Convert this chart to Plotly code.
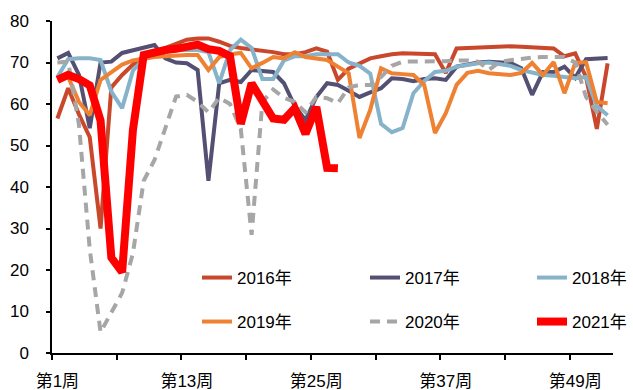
import plotly.graph_objects as go

weeks = list(range(1, 53))
y2016 = [56.5, 63.8, 57.5, 52, 30, 64, 67, 69.5, 71.5, 72.5, 73.5, 74.5, 75.5, 75.8, 75.8, 75, 74, 73.5, 73.2, 73, 72.5, 72, 72, 72.5, 73.4, 72.6, 65.8, 68.5, 69.8, 71, 71.5, 72, 72.2, 72.2, 72.2, 72, 67.5, 73.4, 73.5, 73.6, 73.8, 74, 73.9, 73.8, 73.6, 73.4, 73.4, 71.5, 72.2, 66.5, 54, 69.8]
y2017 = [71, 72.3, 67, 54.2, 70, 70.2, 72.3, 73, 73.7, 74.2, 71, 70, 69.8, 68.2, 41.5, 65, 65.8, 65.3, 68.2, 68, 67.7, 65, 59.5, 56.1, 61.7, 65, 64.6, 63.2, 61.7, 62.8, 63.8, 66.2, 66, 65.5, 66, 66.2, 65.8, 69, 69.5, 70, 70.2, 70, 69.9, 68.6, 62.2, 67.7, 67.7, 69, 66.3, 70.8, 71, 71.1]
y2018 = [66.5, 70.8, 71, 71, 70.6, 63, 59, 68, 71, 72, 72.5, 73, 73, 73, 72.5, 65, 73, 75.5, 73.5, 66, 66, 70.5, 71.5, 71.5, 72, 72, 72, 70, 69.2, 67.3, 55.2, 53.2, 54.2, 62.6, 65.5, 67.7, 68, 69, 69.5, 69.8, 70, 69.6, 69.2, 68.2, 67.5, 67, 66.8, 66.5, 66.2, 66.5, 59.5, 57.3]
y2019 = [66, 66.5, 60.5, 57.3, 65.8, 67.7, 69.5, 70.5, 71, 71.3, 71.5, 71.7, 71.8, 71.8, 68.2, 71.3, 72, 72.3, 68.6, 69.9, 71.3, 71, 72.5, 71.3, 71, 70.6, 69, 67.4, 51.8, 58.6, 68.6, 67.4, 67.2, 67, 64.6, 53, 57.8, 64.6, 67.5, 68, 67.4, 67.2, 67, 67.5, 69.9, 67, 70.1, 62.6, 69.9, 70.1, 60.5, 60.2]
y2020 = [70, 70.2, 55, 25, 5, 10, 14.5, 24, 41.5, 46.5, 54, 61.8, 62.2, 60.5, 58, 61.5, 60, 54, 28.5, 60.5, 63.5, 61.5, 60.5, 58, 61.7, 61.4, 60.2, 64, 64.6, 64.6, 66.5, 69.2, 70.2, 70.2, 70.2, 70.2, 70.3, 70.5, 70.5, 70.2, 68.2, 70.2, 70.6, 71, 71.2, 71.3, 71.3, 71.3, 70, 61.7, 58.1, 55]
y2021 = [65.8, 67, 66, 64.5, 56, 23, 19.5, 53.7, 71.8, 72.5, 73, 73.3, 73.7, 74.3, 73.2, 72.8, 71.5, 55.2, 65, 61, 56.5, 56.2, 59, 52.8, 59.3, 44.6, 44.5]

series_names = ["2016年", "2017年", "2018年", "2019年", "2020年", "2021年"]
series_values = [y2016, y2017, y2018, y2019, y2020, y2021]
series_colors = ["#C9472A", "#545073", "#86B3C9", "#EF8132", "#A6A6A6", "#FF0000"]
series_widths = [4, 4, 4, 4, 4, 8]
series_dash = ["solid", "solid", "solid", "solid", "10px,7px", "solid"]

label_weeks = [1, 13, 25, 37, 49]
label_text = ["第1周", "第13周", "第25周", "第37周", "第49周"]

FONT = "Liberation Sans, Arial, Noto Sans CJK SC, sans-serif"

W, H = 633, 390
ML, MR, MT, MB = 52, 20, 21, 37
PW, PH = W - ML - MR, H - MT - MB

# legend grid (pixel positions of each entry's left edge / row centre)
leg_cols = [197, 365, 532]
leg_rows = [278, 322]

fig = go.Figure()
layout_legends = {}
for i, (name, ys, color, w, dash) in enumerate(zip(series_names, series_values, series_colors, series_widths, series_dash)):
    lg = "legend" if i == 0 else f"legend{i + 1}"
    fig.add_trace(go.Scatter(
        x=weeks[:len(ys)], y=ys, mode="lines", name=name,
        line=dict(color=color, width=w, dash=dash),
        legend=lg,
    ))
    px = leg_cols[i % 3]
    py = leg_rows[i // 3]
    layout_legends[lg] = dict(
        x=(px - ML) / PW, y=(MT + PH - py) / PH,
        xanchor="left", yanchor="middle", orientation="h",
        font=dict(size=17, color="#000000", family=FONT),
        bgcolor="rgba(0,0,0,0)", borderwidth=0,
    )

fig.update_layout(
    width=W, height=H,
    margin=dict(l=ML, r=MR, t=MT, b=MB, autoexpand=False),
    plot_bgcolor="white", paper_bgcolor="white",
    font=dict(family=FONT, size=17, color="#000000"),
    showlegend=True,
    xaxis=dict(
        range=[0.5, 52.5], showgrid=False, zeroline=False, automargin=False,
        showline=True, linecolor="#000000", linewidth=1.5,
        tickmode="array", tickvals=label_weeks, ticktext=label_text,
        ticks="", ticklabelstandoff=12,
        minor=dict(tickmode="linear", tick0=0.5, dtick=6, ticks="outside",
                   ticklen=5, tickwidth=1.5, tickcolor="#000000", showgrid=False),
    ),
    yaxis=dict(
        range=[0, 80], dtick=10, showgrid=False, zeroline=False, automargin=False,
        showline=True, linecolor="#000000", linewidth=1.5,
        ticks="outside", ticklen=4, tickwidth=1.5, tickcolor="#000000",
        ticklabelstandoff=14,
    ),
    **layout_legends,
)

fig.write_html(
    "out.html",
    config={"displayModeBar": False},
    post_script="document.body.style.margin='0';document.body.style.padding='0';",
)
